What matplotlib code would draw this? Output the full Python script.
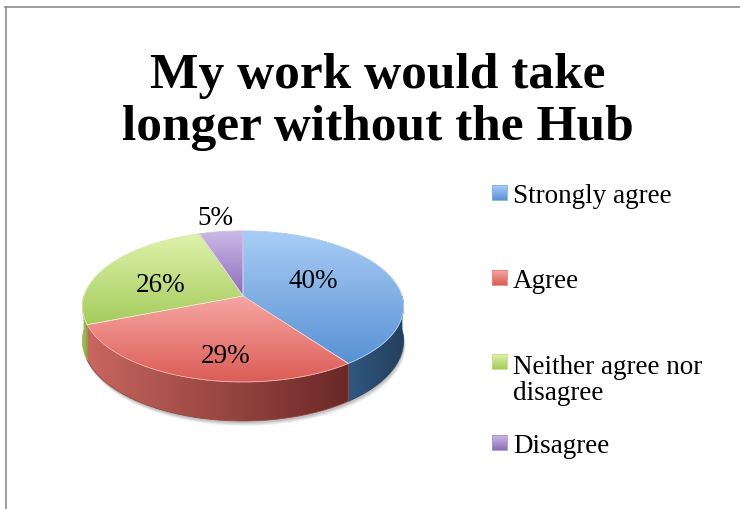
import numpy as np
import matplotlib
matplotlib.use("Agg")
import matplotlib.pyplot as plt
from matplotlib.patches import Polygon
from matplotlib.lines import Line2D
from matplotlib.colors import to_rgb

# ── Survey data ───────────────────────────────────────────────────────────────
TITLE_LINES = ["My work would take", "longer without the Hub"]
CATEGORIES = ["Strongly agree", "Agree", "Neither agree nor\ndisagree", "Disagree"]
SHARES = [40, 29, 26, 5]

# top face gradient (light, dark), side wall gradient (left, right)
TOP_COLORS = [("#aacdf6", "#5892d4"), ("#f6a6a2", "#dc5c56"),
              ("#def3ab", "#a5cb5c"), ("#cbb9e6", "#8c6db8")]
SIDE_COLORS = [("#30587f", "#243f5d"), ("#c9665f", "#6a2827"),
               ("#9dc152", "#8fb348"), ("#7d61a5", "#6a5090")]

# (angle nudge in degrees, radial factor) for the percentage labels
LABEL_PLACE = [(11, 0.52), (8, 0.70), (5, 0.57), (0, 1.325)]

# ── 3-D pie geometry, in pixels ───────────────────────────────────────────────
CX, CY = 243, 297
RX, RY = 159, 74
PERSP = 0.139
DEPTH = 33.6

FONT = "Liberation Serif"
LEG_LINE = 28  # legend line pitch, px


def project(theta, k=1.0, z=0.0):
    u = k * np.cos(theta)
    v = k * np.sin(theta)
    s = 1.0 / (1.0 + PERSP * v)
    return CX + RX * u * s, CY - RY * v * s + z * s


def gradient_fill(ax, verts, c0, c1, vertical=True, zorder=2):
    poly = Polygon(verts, closed=True, facecolor="none", edgecolor="none",
                   zorder=zorder)
    ax.add_patch(poly)
    x0, y0 = verts.min(axis=0)
    x1, y1 = verts.max(axis=0)
    t = np.linspace(0, 1, 256)[:, None]
    cols = (1 - t) * np.array(to_rgb(c0)) + t * np.array(to_rgb(c1))
    img = cols[:, None, :] if vertical else cols[None, :, :]
    im = ax.imshow(img, extent=(x0, x1, y1, y0), origin="upper",
                   aspect="auto", interpolation="bilinear", zorder=zorder)
    im.set_clip_path(poly)
    mid = 0.5 * (np.array(to_rgb(c0)) + np.array(to_rgb(c1)))
    ax.add_patch(Polygon(verts, closed=True, facecolor="none", edgecolor=mid,
                         linewidth=0.6, zorder=zorder + 0.1))


fig = plt.figure(figsize=(7.4, 5.1), dpi=100)
ax = fig.add_axes([0, 0, 1, 1])

# slice angles, clockwise from 12 o'clock
fracs = np.array(SHARES) / np.sum(SHARES)
ends = 90 - 360 * np.cumsum(fracs)
starts = np.concatenate([[90], ends[:-1]])

# soft shadow under the pie
th = np.linspace(0, 2 * np.pi, 400)
for off, a in [(5, 0.05), (4, 0.06), (3, 0.07), (2, 0.08)]:
    bx, by = project(th, z=DEPTH)
    ax.add_patch(Polygon(np.column_stack([bx + off * 0.4, by + off]),
                         closed=True, facecolor="#000000", edgecolor="none",
                         alpha=a, zorder=1))

# side walls (front half only)
for i, (a, b) in enumerate(zip(starts, ends)):
    lo, hi = max(b, -180), min(a, 0)
    if hi <= lo:
        continue
    t = np.radians(np.linspace(lo, hi, 120))
    tx, ty = project(t)
    bx, by = project(t[::-1], z=DEPTH)
    verts = np.column_stack([np.concatenate([tx, bx]), np.concatenate([ty, by])])
    gradient_fill(ax, verts, *SIDE_COLORS[i], vertical=False, zorder=2)

# top faces
for i, (a, b) in enumerate(zip(starts, ends)):
    t = np.radians(np.linspace(a, b, 200))
    tx, ty = project(t)
    verts = np.column_stack([np.concatenate([[CX], tx]), np.concatenate([[CY], ty])])
    gradient_fill(ax, verts, *TOP_COLORS[i], vertical=True, zorder=3)
    ax.add_patch(Polygon(verts, closed=True, facecolor="none",
                         edgecolor="white", linewidth=0.5, alpha=0.5, zorder=3.5))

# percentage labels
for i, (a, b) in enumerate(zip(starts, ends)):
    nudge, k = LABEL_PLACE[i]
    lx, ly = project(np.radians((a + b) / 2 + nudge), k=k)
    ax.text(lx, ly + 3, f"{SHARES[i]}%", ha="center", va="center",
            fontsize=19.5, family=FONT, color="black", zorder=5)

# title
for y, line in zip([88, 140], TITLE_LINES):
    ax.text(378, y, line, ha="center", va="baseline", fontsize=37,
            fontweight="bold", family=FONT, color="black")

# legend (baseline of each entry's first line)
LEG_BASE = [203, 288, 372, 453]
for i, (lab, yb) in enumerate(zip(CATEGORIES, LEG_BASE)):
    sq = np.array([[492, yb - 17], [507, yb - 17], [507, yb - 2], [492, yb - 2]])
    gradient_fill(ax, sq, *TOP_COLORS[i], vertical=True, zorder=3)
    extra = lab.count("\n") * LEG_LINE
    ax.text(513, yb + extra, lab, ha="left", va="baseline", fontsize=19.5,
            family=FONT, color="black", linespacing=1.03)

# chart area border (top and left edges)
ax.add_line(Line2D([5, 740], [8, 8], color="#8c8c8c", linewidth=1.2))
ax.add_line(Line2D([5.5, 5.5], [8, 510], color="#8c8c8c", linewidth=1.2))

ax.set_xlim(0, 740)
ax.set_ylim(510, 0)
ax.axis("off")

fig.savefig("out.png", dpi=100)
